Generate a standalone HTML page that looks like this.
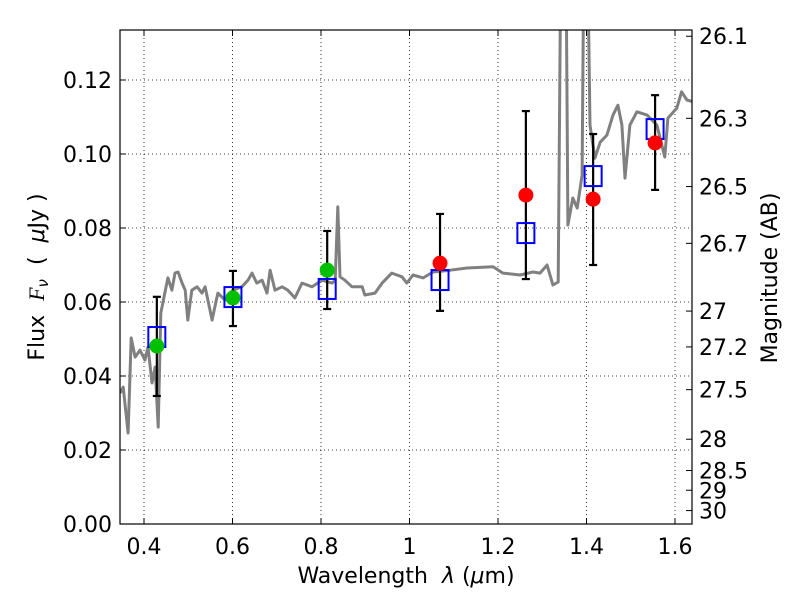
<!DOCTYPE html>
<html><head><meta charset="utf-8"><style>
body{margin:0;background:#fff}
svg{display:block;font-family:"DejaVu Sans","Liberation Sans",sans-serif}
</style></head><body>
<svg id="chart" width="800" height="600" viewBox="0 0 800 600" xmlns="http://www.w3.org/2000/svg">
<rect width="800" height="600" fill="#fff"/>
<defs><clipPath id="pc"><rect x="120" y="30" width="572" height="494"/></clipPath></defs>
<g id="grid"></g>
<g id="spec" clip-path="url(#pc)"></g>
<g id="marks"></g>
<rect x="120" y="30" width="572" height="494" fill="none" stroke="#000" stroke-width="1.2"/>
<g id="axes"></g>
<text x="406" y="583" font-size="22" text-anchor="middle">Wavelength&#160;&#160;<tspan font-style="italic">λ</tspan> (<tspan font-style="italic">μ</tspan>m)</text>
<text transform="translate(44,277) rotate(-90)" font-size="22" text-anchor="middle">Flux&#160;&#160;<tspan font-style="italic" font-family="Liberation Serif, serif">F</tspan><tspan font-style="italic" font-size="15" dy="4">ν</tspan><tspan dy="-4">&#160;&#160;(&#160;&#160;</tspan><tspan font-style="italic">μ</tspan>Jy )</text>
<text transform="translate(777,278) rotate(-90)" font-size="22" text-anchor="middle">Magnitude (AB)</text>
</svg>
<script>
const specLam=[0.346,0.353,0.364,0.371,0.380,0.391,0.402,0.409,0.418,0.425,0.432,0.438,0.447,0.454,0.463,0.470,0.477,0.486,0.493,0.499,0.508,0.520,0.531,0.538,0.554,0.560,0.567,0.583,0.601,0.621,0.635,0.644,0.655,0.667,0.678,0.685,0.696,0.712,0.725,0.741,0.757,0.780,0.802,0.825,0.832,0.838,0.843,0.854,0.870,0.893,0.899,0.922,0.938,0.960,0.983,0.994,1.008,1.031,1.053,1.092,1.130,1.189,1.211,1.250,1.279,1.295,1.311,1.324,1.336,1.345,1.351,1.358,1.369,1.379,1.390,1.397,1.408,1.419,1.431,1.446,1.460,1.471,1.480,1.487,1.498,1.514,1.537,1.559,1.577,1.584,1.604,1.615,1.627,1.641];
const specFlux=[0.0354,0.0370,0.0246,0.0503,0.0451,0.0470,0.0443,0.0478,0.0381,0.0424,0.0262,0.0570,0.0624,0.0665,0.0632,0.0678,0.0681,0.0651,0.0632,0.0551,0.0632,0.0641,0.0624,0.0641,0.0551,0.0586,0.0624,0.0605,0.0632,0.0641,0.0659,0.0678,0.0651,0.0659,0.0624,0.0686,0.0632,0.0641,0.0632,0.0611,0.0651,0.0641,0.0659,0.0651,0.0659,0.0857,0.0668,0.0659,0.0641,0.0641,0.0619,0.0624,0.0651,0.0678,0.0668,0.0651,0.0673,0.0665,0.0681,0.0686,0.0692,0.0695,0.0678,0.0673,0.0681,0.0678,0.0700,0.0646,0.0654,0.2,0.2,0.0808,0.0881,0.0854,0.0943,0.2,0.1078,0.0989,0.1032,0.1051,0.1105,0.1132,0.1078,0.0935,0.1078,0.1114,0.1105,0.1078,0.0992,0.1097,0.1124,0.1168,0.1146,0.1141];
const photLam=[0.429,0.601,0.814,1.069,1.263,1.415,1.555];
const obsFlux=[0.0481,0.0611,0.0686,0.0705,0.0889,0.0878,0.1030];
const errHi=[0.0614,0.0684,0.0792,0.0838,0.1116,0.1054,0.1159];
const errLo=[0.0346,0.0535,0.0581,0.0576,0.0662,0.0700,0.0903];
const obsColor=["#00c000","#00c000","#00c000","#ff0000","#ff0000","#ff0000","#ff0000"];
const modelFlux=[0.0508,0.0616,0.0638,0.0662,0.0789,0.0943,0.1070];
const xTicks=[0.4,0.6,0.8,1.0,1.2,1.4,1.6];
const xTickLabels=["0.4","0.6","0.8","1","1.2","1.4","1.6"];
const yTicks=[0,0.02,0.04,0.06,0.08,0.10,0.12];
const yTickLabels=["0.00","0.02","0.04","0.06","0.08","0.10","0.12"];
const magTicks=[26.1,26.3,26.5,26.7,27,27.2,27.5,28,28.5,29,30];
const magTickLabels=["26.1","26.3","26.5","26.7","27","27.2","27.5","28","28.5","29","30"];

const NS="http://www.w3.org/2000/svg";
const X=l=>144+(l-0.4)*442.5;
const Y=f=>524-f*3700;
const magToFlux=m=>Math.pow(10,(23.9-m)/2.5);
function mk(tag,attrs,parent){const e=document.createElementNS(NS,tag);for(const k in attrs)e.setAttribute(k,attrs[k]);parent.appendChild(e);return e;}
const grid=document.getElementById('grid'),axes=document.getElementById('axes'),spec=document.getElementById('spec'),marks=document.getElementById('marks');

xTicks.forEach((t,i)=>{
  const x=X(t);
  let g=mk('line',{x1:x,x2:x,y1:30,y2:524,stroke:'#000','stroke-width':0.8,'stroke-dasharray':'1,3'},grid);
  
  
  mk('line',{x1:x,x2:x,y1:524,y2:518,stroke:'#000'},axes);
  mk('line',{x1:x,x2:x,y1:30,y2:36,stroke:'#000'},axes);
  const tx=mk('text',{x:x,y:554,'font-size':22,'text-anchor':'middle'},axes);
  tx.textContent=xTickLabels[i];
  
  
});
yTicks.forEach((t,i)=>{
  const y=Y(t);
  let g=mk('line',{x1:120,x2:692,y1:y,y2:y,stroke:'#000','stroke-width':0.8,'stroke-dasharray':'1,3'},grid);
  
  
  mk('line',{x1:120,x2:126,y1:y,y2:y,stroke:'#000'},axes);
  const tx=mk('text',{x:112,y:y+8,'font-size':22,'text-anchor':'end'},axes);
  tx.textContent=yTickLabels[i];
  
  
});
magTicks.forEach((m,i)=>{
  const y=Y(magToFlux(m));
  mk('line',{x1:686,x2:692,y1:y,y2:y,stroke:'#000'},axes);
  const tx=mk('text',{x:699,y:y+8,'font-size':22},axes);
  tx.textContent=magTickLabels[i];
  
  
});
const path=mk('polyline',{points:specLam.map((l,i)=>X(l).toFixed(1)+','+Y(specFlux[i]).toFixed(1)).join(' '),fill:'none',stroke:'#808080','stroke-width':3,'stroke-linejoin':'round'},spec);


photLam.forEach((l,i)=>{
  const x=X(l);
  const e=mk('g',{},marks);
  
  
  mk('line',{x1:x,x2:x,y1:Y(errHi[i]),y2:Y(errLo[i]),stroke:'#000','stroke-width':2.2},e);
  mk('line',{x1:x-4,x2:x+4,y1:Y(errHi[i]),y2:Y(errHi[i]),stroke:'#000','stroke-width':2.2},e);
  mk('line',{x1:x-4,x2:x+4,y1:Y(errLo[i]),y2:Y(errLo[i]),stroke:'#000','stroke-width':2.2},e);
  const s=mk('rect',{x:x-8.5,y:Y(modelFlux[i])-9,width:17,height:20,fill:'none',stroke:'#0000ff','stroke-width':2},marks);
  
  
  const c=mk('circle',{cx:x,cy:Y(obsFlux[i]),r:7.5,fill:obsColor[i]},marks);
  
  
});
</script>
</body></html>
